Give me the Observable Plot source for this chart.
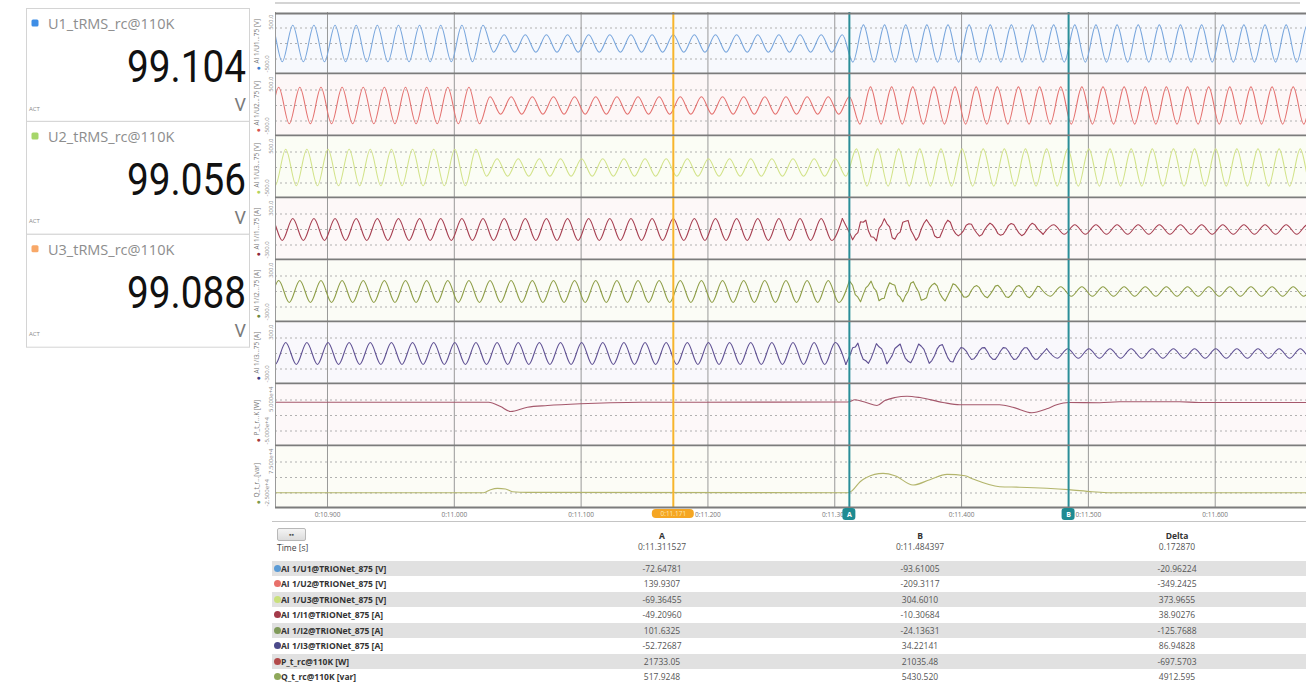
<!DOCTYPE html>
<html>
<head>
<meta charset="utf-8">
<script src="https://cdn.jsdelivr.net/npm/d3@7"></script>
<script src="https://cdn.jsdelivr.net/npm/@observablehq/plot@0.6"></script>
<style>
html,body{margin:0;padding:0;background:#fff;}
body{width:1306px;height:684px;overflow:hidden;position:relative;font-family:"Open Sans","Noto Sans",sans-serif;}
#left{position:absolute;left:0;top:0;}
#panels{position:absolute;left:250px;top:12px;width:1056px;}
#panels svg{display:block;overflow:visible;}
#xaxis{position:absolute;left:250px;top:508px;}
#xaxis svg{display:block;overflow:visible;}
#topline{position:absolute;left:275px;top:2px;width:1025px;height:2px;background:#d4d4d4;}
#table{position:absolute;left:272px;top:521px;width:1034px;height:163px;border-top:1px solid #c4c4c4;}
#table div{position:absolute;white-space:nowrap;}
.row{left:0;width:1034px;height:15px;}
.shade{background:#e1e1e1;}
.lbl{left:9px;font-weight:700;font-size:8.5px;color:#333;line-height:15px;}
.dot{left:2px;top:4px;width:7px;height:7px;border-radius:50%;}
.val{width:160px;text-align:center;font-size:8.5px;color:#555;line-height:15px;}
.hdr{width:160px;text-align:center;font-size:8.5px;color:#333;font-weight:700;}
</style>
</head>
<body>
<div id="left"></div>
<div id="topline"></div>
<div id="panels"></div>
<div id="xaxis"></div>
<div id="table"></div>
<script>
// ---------------- data ----------------
const dispNames = ["U1_tRMS_rc@110K", "U2_tRMS_rc@110K", "U3_tRMS_rc@110K"];
const dispValues = ["99.104", "99.056", "99.088"];
const dispUnits = ["V", "V", "V"];
const dispColors = ["#3e8ee6", "#a6d66a", "#f8a868"];

const timeDomain = [10.859, 11.672];
const xTicks = [10.9, 11.0, 11.1, 11.2, 11.3, 11.4, 11.5, 11.6];
const xTickLabels = ["0:10.900", "0:11.000", "0:11.100", "0:11.200", "0:11.300", "0:11.400", "0:11.500", "0:11.600"];

const cursorY = 11.1727, cursorYLabel = "0:11.171";
const cursorA = 11.311527, cursorB = 11.484397;
const cursorLabels = ["A", "B"];

// waveform extrema: first U1 peak time, half-cycle step (60 Hz), per-phase shift
const firstPeak = 10.8393;
const halfCycle = 1 / 120;
const phaseShift = [0, 0.00556, 0.01111];

// amplitude of each successive half-cycle extremum (V)
const u1Amp = [
 295,295,295,295,295,295,295,295,295,295,
 295,295,295,295,295,295,295,295,295,295,
 295,295,295,140,140,140,140,140,140,140,
 140,140,140,140,140,140,140,140,140,140,
 140,140,140,140,140,140,140,140,140,140,
 140,140,140,140,140,140,140,300,300,300,
 300,300,300,300,300,300,300,300,300,300,
 300,300,300,300,300,300,300,300,300,300,
 300,300,300,300,300,300,300,300,300,300,
 300,300,300,300,300,300,300,300,300,300,
 300,300];
const u2Amp = [
 295,295,295,295,295,295,295,295,295,295,
 295,295,295,295,295,295,295,295,295,295,
 295,295,140,140,140,140,140,140,140,140,
 140,140,140,140,140,140,140,140,140,140,
 140,140,140,140,140,140,140,140,140,140,
 140,140,140,140,140,140,140,300,300,300,
 300,300,300,300,300,300,300,300,300,300,
 300,300,300,300,300,300,300,300,300,300,
 300,300,300,300,300,300,300,300,300,300,
 300,300,300,300,300,300,300,300,300,300,
 300,300];
const u3Amp = [
 295,295,295,295,295,295,295,295,295,295,
 295,295,295,295,295,295,295,295,295,295,
 295,140,140,140,140,140,140,140,140,140,
 140,140,140,140,140,140,140,140,140,140,
 140,140,140,140,140,140,140,140,140,140,
 140,140,140,140,140,140,300,300,300,300,
 300,300,300,300,300,300,300,300,300,300,
 300,300,300,300,300,300,300,300,300,300,
 300,300,300,300,300,300,300,300,300,300,
 300,300,300,300,300,300,300,300,300,300,
 300,300];
// currents (A): null where the distorted samples below take over
const i1Amp = [
 106,106,106,106,106,106,106,106,106,106,
 106,106,106,106,106,106,106,106,106,106,
 106,106,106,106,106,106,106,106,106,106,
 106,106,106,106,106,106,106,106,106,106,
 106,106,106,106,106,106,106,106,106,106,
 106,106,106,106,106,106,106,null,null,null,
 null,null,null,null,null,null,null,null,null,null,
 null,null,null,null,null,46,46,46,46,46,
 46,46,46,46,46,46,46,46,46,46,
 46,46,46,46,46,46,46,46,46,46,
 46,46];
const i2Amp = [
 106,106,106,106,106,106,106,106,106,106,
 106,106,106,106,106,106,106,106,106,106,
 106,106,106,106,106,106,106,106,106,106,
 106,106,106,106,106,106,106,106,106,106,
 106,106,106,106,106,106,106,106,106,106,
 106,106,106,106,106,106,106,null,null,null,
 null,null,null,null,null,null,null,null,null,null,
 null,null,null,null,46,46,46,46,46,46,
 46,46,46,46,46,46,46,46,46,46,
 46,46,46,46,46,46,46,46,46,46,
 46,46];
const i3Amp = [
 106,106,106,106,106,106,106,106,106,106,
 106,106,106,106,106,106,106,106,106,106,
 106,106,106,106,106,106,106,106,106,106,
 106,106,106,106,106,106,106,106,106,106,
 106,106,106,106,106,106,106,106,106,106,
 106,106,106,106,106,106,null,null,null,null,
 null,null,null,null,null,null,null,null,null,null,
 null,null,null,null,46,46,46,46,46,46,
 46,46,46,46,46,46,46,46,46,46,
 46,46,46,46,46,46,46,46,46,46,
 46,46];
// distorted current samples between cursor A and ~11.46 s (step 1/480 s)
const noiseStart = 11.312, noiseStep = 1 / 480;
const i1Noise = [
 -40,-100,-55,-30,75,70,90,-15,
 -70,-75,-110,10,45,105,55,25,
 -80,-95,-45,-25,70,80,88,-5,
 -50,-105,-70,5,60,95,55,20,
 -60,-80,-75,-15,50,90,70,0,
 -40,-62,-42,-10,42,55,50,3,
 -34,-64,-48,0,35,62,43,8,
 -40,-56,-46,-7,40,58,48,4,
 -36,-60,-44,-4,37,61,45,6];
const i2Noise = [
 95,60,-30,-55,-100,-30,35,60,
 100,35,5,-90,-70,-65,25,85,
 70,60,-30,-55,-100,-40,0,80,
 95,40,-5,-85,-75,-60,28,62,
 80,55,-20,-62,-92,-42,12,75,
 62,30,-8,-52,-56,-38,12,46,
 57,37,-12,-46,-61,-31,8,52,
 60,32,-9,-50,-58,-35,11,48,
 58,35,-10,-48,-60,-33,9,50];
const i3Noise = [
 -15,55,62,100,8,-55,-70,-95,
 -45,22,95,65,45,-20,-100,-60,
 -18,48,70,92,15,-48,-75,-90,
 -40,28,92,70,40,-28,-95,-68,
 -22,44,78,86,22,-40,-78,-82,
 -24,22,58,50,24,-22,-58,-50,
 -19,28,54,57,19,-28,-54,-57,
 -22,24,57,53,22,-24,-57,-53,
 -20,26,55,55,20,-26,-55,-55];

// active power P (W) and reactive power Q (var)
const pTimes = [10.859, 11.027, 11.0365, 11.0443, 11.0577, 11.0735, 11.0995, 11.123, 11.147, 11.194, 11.3104, 11.3159, 11.3247, 11.3333, 11.3396, 11.3475, 11.357, 11.3672, 11.3853, 11.3986, 11.430, 11.4404, 11.4554, 11.4672, 11.475, 11.4845, 11.5089, 11.5246, 11.5719, 11.587, 11.672];
const pValues = [21450, 21450, 14500, 6450, 13400, 16100, 18900, 20500, 21300, 21450, 21733, 25300, 21000, 16100, 24200, 29000, 31100, 29000, 21000, 17300, 17300, 13400, 4350, 10800, 17300, 21035, 20650, 22100, 22100, 21000, 21000];
const qTimes = [10.859, 11.0231, 11.0286, 11.0341, 11.0404, 11.0459, 11.0577, 11.3105, 11.3137, 11.32, 11.3247, 11.3381, 11.3475, 11.3617, 11.375, 11.3885, 11.4027, 11.4089, 11.430, 11.4459, 11.4845, 11.503, 11.5167, 11.672];
const qValues = [500, 500, 5300, 7400, 6450, 2100, 970, 518, 3700, 18200, 24700, 31600, 27900, 12900, 21450, 30000, 27900, 22600, 10200, 9350, 5430, 2100, 500, 500];

// cursor table
const tableNames = ["AI 1/U1@TRIONet_875 [V]", "AI 1/U2@TRIONet_875 [V]", "AI 1/U3@TRIONet_875 [V]", "AI 1/I1@TRIONet_875 [A]", "AI 1/I2@TRIONet_875 [A]", "AI 1/I3@TRIONet_875 [A]", "P_t_rc@110K [W]", "Q_t_rc@110K [var]"];
const tableDots = ["#5b9bd5", "#e8706a", "#c9e07c", "#a33a4a", "#7f9a5a", "#4b4a8a", "#b24a4a", "#8fa85a"];
const colA = ["-72.64781", "139.9307", "-69.36455", "-49.20960", "101.6325", "-52.72687", "21733.05", "517.9248"];
const colB = ["-93.61005", "-209.3117", "304.6010", "-10.30684", "-24.13631", "34.22141", "21035.48", "5430.520"];
const colDelta = ["-20.96224", "-349.2425", "373.9655", "38.90276", "-125.7688", "86.94828", "-697.5703", "4912.595"];
const timeRow = ["0:11.311527", "0:11.484397", "0.172870"];
const colHeaders = ["A", "B", "Delta"];

// ---------------- build series ----------------
function extrema(amps, shift) {
  const pts = [];
  amps.forEach((a, j) => {
    if (a == null) return;
    pts.push({t: firstPeak + shift + j * halfCycle, v: (j % 2 === 0 ? 1 : -1) * a});
  });
  return pts;
}
function currentParts(amps, shift, noise) {
  const ex = extrema(amps, shift);
  const nz = noise.map((v, k) => ({t: noiseStart + k * noiseStep, v}));
  const t0 = nz[0].t, t1 = nz[nz.length - 1].t;
  const pre = ex.filter(d => d.t < t0).map(d => ({...d, seg: "pre"}));
  const post = ex.filter(d => d.t > t1).map(d => ({...d, seg: "post"}));
  const noisy = [pre[pre.length - 1], ...nz, post[0]];
  return {smooth: pre.concat(post), noisy};
}
const seriesLine = (ts, vs) => ts.map((t, i) => ({t, v: vs[i]}));

const i1 = currentParts(i1Amp, phaseShift[0], i1Noise);
const i2 = currentParts(i2Amp, phaseShift[1], i2Noise);
const i3 = currentParts(i3Amp, phaseShift[2], i3Noise);

const channels = [
  {name: "AI 1/U1...75 [V]", color: "#78a6dd", dot: "#3e7fd0", tint: "#f7f9fd", dom: [-500, 500], grid: [-250, 0, 250], top: "500.0", bot: "-500.0", data: extrema(u1Amp, phaseShift[0])},
  {name: "AI 1/U2...75 [V]", color: "#e4716f", dot: "#d9534f", tint: "#fdf7f7", dom: [-500, 500], grid: [-250, 0, 250], top: "500.0", bot: "-500.0", data: extrema(u2Amp, phaseShift[1])},
  {name: "AI 1/U3...75 [V]", color: "#d2e389", dot: "#b6d35a", tint: "#fbfdf5", dom: [-500, 500], grid: [-250, 0, 250], top: "500.0", bot: "-500.0", data: extrema(u3Amp, phaseShift[2])},
  {name: "AI 1/I1...75 [A]", color: "#a63e50", dot: "#8e2a3a", tint: "#fdf8f8", dom: [-300, 300], grid: [-150, 0, 150], top: "300.0", bot: "-300.0", data: i1.smooth, noisy: i1.noisy},
  {name: "AI 1/I2...75 [A]", color: "#8d9d45", dot: "#6f8a3e", tint: "#fbfcf6", dom: [-300, 300], grid: [-150, 0, 150], top: "300.0", bot: "-300.0", data: i2.smooth, noisy: i2.noisy},
  {name: "AI 1/I3...75 [A]", color: "#5e4f92", dot: "#3f3f86", tint: "#f9f8fc", dom: [-300, 300], grid: [-150, 0, 150], top: "300.0", bot: "-300.0", data: i3.smooth, noisy: i3.noisy},
  {name: "P_t_r...K [W]", color: "#a5586c", dot: "#a83a3a", tint: "#fdf8f9", dom: [-50000, 50000], grid: [-25000, 0, 25000], top: "5.000e+4", bot: "-5.000e+4", data: seriesLine(pTimes, pValues)},
  {name: "Q_t_r...[var]", color: "#b3b56c", dot: "#7f9a4a", tint: "#fcfcf6", dom: [-25000, 75000], grid: [0, 25000, 50000], top: "7.500e+4", bot: "-2.500e+4", data: seriesLine(qTimes, qValues)}
];

// ---------------- left value display ----------------
const left = d3.select("#left").append("svg").attr("width", 252).attr("height", 352);
dispNames.forEach((n, i) => {
  const g = left.append("g").attr("transform", `translate(0,${i * 112.9})`);
  g.append("rect").attr("x", 26.5).attr("y", 8.5).attr("width", 223).attr("height", 112.9).attr("fill", "#fff").attr("stroke", "#d4d4d4");
  g.append("rect").attr("x", 31.5).attr("y", 19.5).attr("width", 7).attr("height", 7).attr("rx", 1.5).attr("fill", dispColors[i]);
  g.append("text").attr("x", 48).attr("y", 29).attr("font-size", 14.5).attr("fill", "#8d8d8d").attr("font-family", "Open Sans").text(n);
  g.append("text").attr("transform", "translate(246,82) scale(0.88,1)").attr("text-anchor", "end").attr("font-size", 44).attr("fill", "#111").attr("font-family", "Roboto").text(dispValues[i]);
  g.append("text").attr("x", 246).attr("y", 111).attr("text-anchor", "end").attr("font-size", 18).attr("fill", "#7a7a7a").attr("font-family", "Roboto").text(dispUnits[i]);
  g.append("text").attr("x", 29).attr("y", 110.5).attr("font-size", 6).attr("fill", "#8a8a8a").attr("font-family", "Open Sans").text("ACT");
});

// ---------------- waveform panels ----------------
const panelsDiv = document.getElementById("panels");
channels.forEach((ch, k) => {
  const marks = [
    Plot.frame({fill: ch.tint, stroke: "none"}),
    Plot.gridY(ch.grid, {stroke: "#a8a8a8", strokeOpacity: 0.9, strokeDasharray: "2,3"}),
    Plot.gridX(xTicks, {stroke: "#8e8e8e", strokeOpacity: 0.9}),
    Plot.line(ch.data, {x: "t", y: "v", z: "seg", stroke: ch.color, strokeWidth: 1.1, curve: "monotone-x", clip: true})
  ];
  if (ch.noisy) marks.push(Plot.line(ch.noisy, {x: "t", y: "v", stroke: ch.color, strokeWidth: 1.1, curve: "linear", clip: true}));
  marks.push(
    Plot.ruleX([cursorY], {stroke: "#f7b52c", strokeWidth: 2}),
    Plot.ruleX([cursorA, cursorB], {stroke: "#2a8e98", strokeWidth: 2}),
    Plot.ruleX([timeDomain[0]], {stroke: "#9a9a9a"}),
    Plot.ruleY([ch.dom[0]], {stroke: "#7c7c7c", strokeWidth: 2, dy: -1}),
    Plot.text(["●"], {frameAnchor: "bottom-left", dx: -19, dy: -5, fill: ch.dot, fontSize: 7}),
    Plot.text([ch.name], {frameAnchor: "bottom-left", dx: -16.5, dy: -11, rotate: -90, textAnchor: "start", fill: "#777", fontSize: 6.5}),
    Plot.text([ch.top], {frameAnchor: "top-left", dx: -6.5, dy: 2, rotate: -90, textAnchor: "end", fill: "#888", fontSize: 6}),
    Plot.text([ch.bot], {frameAnchor: "bottom-left", dx: -6.5, dy: -2, rotate: -90, textAnchor: "start", fill: "#888", fontSize: 6})
  );
  if (k === 0) marks.push(Plot.ruleY([ch.dom[1]], {stroke: "#7c7c7c", strokeWidth: 2, dy: 1}));
  const svg = Plot.plot({
    width: 1056, height: 62, marginLeft: 25, marginRight: 0, marginTop: 0, marginBottom: 0,
    x: {domain: timeDomain, axis: null},
    y: {domain: ch.dom, axis: null},
    style: {background: "transparent", fontFamily: "Open Sans"},
    marks
  });
  panelsDiv.append(svg);
});

// ---------------- time axis with cursor labels ----------------
const axis = Plot.plot({
  width: 1056, height: 14, marginLeft: 25, marginRight: 0, marginTop: 0, marginBottom: 0,
  x: {domain: timeDomain, axis: null},
  style: {background: "transparent", fontFamily: "Open Sans"},
  marks: [
    Plot.text(xTicks, {x: d => d, text: (d, i) => xTickLabels[i], fill: "#777", fontSize: 6.5, dy: -1}),
    Plot.rect([cursorY], {x1: d => d, x2: d => d, insetLeft: -21, insetRight: -21, insetTop: 1, insetBottom: 4, rx: 4, fill: "#f5a623"}),
    Plot.text([cursorY], {x: d => d, text: () => cursorYLabel, fill: "#fde6b0", fontSize: 6.5, dy: -1.5}),
    Plot.rect([cursorA, cursorB], {x1: d => d, x2: d => d, insetLeft: -6.5, insetRight: -6.5, insetTop: 0, insetBottom: 2, rx: 3, fill: "#1e8b92"}),
    Plot.text([cursorA, cursorB], {x: d => d, text: (d, i) => cursorLabels[i], fill: "#fff", fontWeight: "bold", fontSize: 7, dy: -1})
  ]
});
document.getElementById("xaxis").append(axis);

// ---------------- cursor table ----------------
const table = d3.select("#table");
const colX = [390, 648, 905];
table.append("div").style("left", "5px").style("top", "6px").style("width", "27px").style("height", "11px")
  .style("border", "1px solid #b8b8b8").style("background", "linear-gradient(#f4f4f4,#dcdcdc)").style("border-radius", "2px")
  .style("font-size", "7px").style("color", "#555").style("text-align", "center").style("line-height", "11px").text("▪▪");
colHeaders.forEach((h, i) => table.append("div").attr("class", "hdr").style("left", (colX[i] - 80) + "px").style("top", "8px").text(h));
table.append("div").style("left", "5px").style("top", "20px").style("font-size", "8.5px").style("color", "#444").text("Time [s]");
timeRow.forEach((v, i) => table.append("div").attr("class", "val").style("left", (colX[i] - 80) + "px").style("top", "17px").text(v));
tableNames.forEach((n, r) => {
  const row = table.append("div").attr("class", "row" + (r % 2 === 0 ? " shade" : "")).style("top", (38.5 + r * 15.5) + "px");
  row.append("div").attr("class", "dot").style("background", tableDots[r]);
  row.append("div").attr("class", "lbl").style("top", "0px").text(n);
  [colA, colB, colDelta].forEach((col, c) => row.append("div").attr("class", "val").style("left", (colX[c] - 80) + "px").style("top", "0px").text(col[r]));
});
</script>
</body>
</html>
